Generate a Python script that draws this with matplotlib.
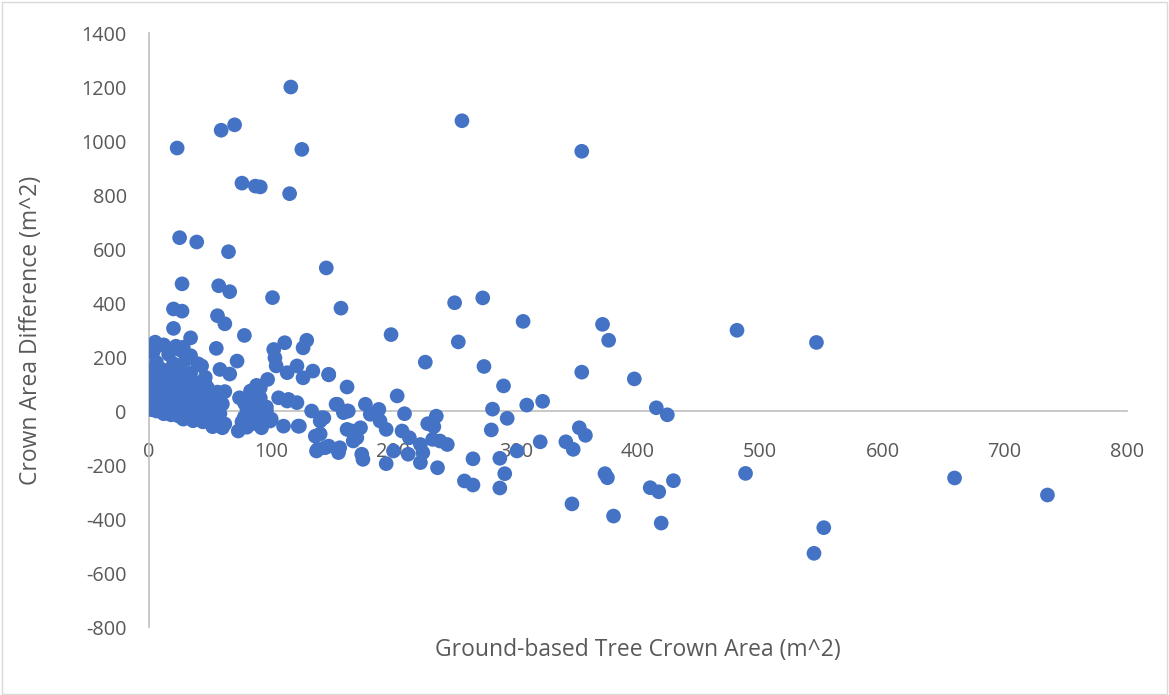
import matplotlib
matplotlib.use("Agg")
import matplotlib.pyplot as plt
from matplotlib.patches import Rectangle

plt.rcParams["axes.unicode_minus"] = False

# ---- data ----
# sparse / outlying points
outlier_x = [116, 23, 59, 70, 125, 76, 87, 91, 115, 256, 354, 25, 39, 65, 27, 57, 66,
             145, 101, 157, 20, 27, 20, 56, 62, 78, 34, 111, 129, 126, 5, 5, 55, 102,
             103, 113, 104, 121, 134, 126, 147, 72, 58, 43, 97, 91, 113, 121, 133, 140,
             153, 123, 136, 137, 73]
outlier_y = [1200, 974, 1040, 1060, 969, 844, 833, 830, 805, 1075, 962, 642, 626, 590, 471,
             464, 442, 530, 420, 381, 378, 370, 306, 353, 323, 280, 271, 253, 262, 234, 248,
             234, 232, 228, 197, 142, 167, 167, 148, 123, 136, 185, 154, 167, 117, 86, 37,
             31, 0, -37, 25, -56, -93, -148, -74]

mid_x = [250, 273, 198, 253, 306, 371, 376, 226, 274, 354, 397, 147, 162, 290, 203, 322,
         309, 281, 293, 280, 209, 235, 228, 233, 232, 244, 238, 177, 188, 154, 162, 189,
         194, 207, 213, 222, 224, 222, 212, 200, 194, 236, 265, 258, 265, 287, 301, 291,
         287, 320, 341, 347, 352, 357, 373, 375, 346, 380, 166, 167, 174, 175, 155, 144,
         140, 143, 159, 173, 181]
mid_y = [401, 419, 283, 256, 332, 321, 262, 181, 165, 144, 119, 134, 89, 93, 56, 36, 22, 7,
         -27, -70, -10, -19, -47, -58, -105, -124, -111, 25, 6, 25, 0, -37, -68, -74, -99,
         -124, -154, -191, -160, -148, -195, -210, -177, -259, -274, -175, -148, -232, -285,
         -114, -114, -142, -62, -90, -232, -247, -344, -389, -74, -111, -160, -179, -154,
         -136, -85, -25, -6, -62, -12]

far_x = [481, 546, 415, 424, 410, 417, 429, 488, 419, 552, 544, 659, 735,
         106, 114, 99, 88, 110, 122, 138, 147, 156, 162, 170, 83, 91, 94, 163, 141]
far_y = [299, 254, 12, -14, -284, -299, -258, -231, -415, -432, -527, -248, -311,
         49, 43, -37, -12, -56, -56, -142, -130, -136, -68, -99, 74, 49, 12, 0, -25]

# dense cluster of small crowns
dense_x = [5, 12, 22, 28,
           3, 16, 26, 34,
           6, 20, 30, 40,
           2, 10, 18, 26, 34, 46, 66,
           1, 6, 14, 22, 30, 38, 46,
           0, 5, 12, 18, 24, 30, 36, 42, 48, 56, 62, 88,
           1, 6, 10, 15, 21, 27, 33, 39, 45, 51, 58, 74, 82,
           0, 3, 8, 13, 18, 24, 30, 36, 42, 48, 54, 60, 78, 86, 96,
           2, 6, 11, 16, 22, 28, 34, 40, 46, 52, 58, 80, 88, 96,
           12, 18, 24, 30, 36, 42, 48, 54, 78, 84, 92,
           28, 36, 44, 50, 56, 62, 76, 86, 100,
           52, 60, 80, 92]
dense_y = [255, 245, 240, 236,
           215, 210, 225, 205,
           180, 175, 190, 175,
           150, 155, 140, 150, 140, 125, 137,
           120, 115, 125, 110, 112, 105, 100,
           90, 95, 85, 92, 78, 90, 80, 75, 85, 70, 72, 95,
           60, 65, 55, 62, 58, 66, 55, 60, 52, 50, 48, 49, 40,
           30, 25, 35, 28, 32, 26, 34, 28, 24, 30, 22, 26, 30, 20, 15,
           5, 0, 8, 2, 6, -4, 4, 0, -6, 2, -10, 10, 4, 0,
           -10, -14, -18, -12, -20, -16, -24, -20, -22, -18, -15,
           -30, -36, -40, -34, -44, -48, -40, -46, -30,
           -58, -62, -60, -62]

# ---- figure ----
fig = plt.figure(figsize=(11.69, 6.95), dpi=100)
fig.patches.append(Rectangle((0.002, 0.002), 0.996, 0.995, transform=fig.transFigure,
                             fill=False, edgecolor="#d9d9d9", linewidth=1.0))
ax = fig.add_axes([0.1275, 0.0978, 0.8365, 0.8547])

blue = "#4472C4"
for xs, ys in [(dense_x, dense_y), (outlier_x, outlier_y), (mid_x, mid_y), (far_x, far_y)]:
    ax.scatter(xs, ys, s=112, color=blue, edgecolors="none", zorder=3)

ax.set_xlim(0, 800)
ax.set_ylim(-800, 1400)
ax.set_xticks(range(0, 801, 100))
ax.set_yticks(range(-800, 1401, 200))

for s in ["top", "right"]:
    ax.spines[s].set_visible(False)
ax.spines["bottom"].set_position(("data", 0))
ax.spines["bottom"].set_color("#bfbfbf")
ax.spines["left"].set_color("#bfbfbf")
ax.spines["bottom"].set_linewidth(1.2)
ax.spines["left"].set_linewidth(1.2)

ax.tick_params(axis="both", length=0, labelsize=14.3, labelcolor="#595959")
ax.tick_params(axis="x", pad=22)
ax.tick_params(axis="y", pad=16)
for lab in ax.get_xticklabels() + ax.get_yticklabels():
    lab.set_family("Open Sans")

ax.set_xlabel("Ground-based Tree Crown Area (m^2)", fontsize=16.5, color="#595959",
              family="Open Sans")
ax.xaxis.set_label_coords(0.5, -0.018)
ax.set_ylabel("Crown Area Difference (m^2)", fontsize=16.5, color="#595959",
              family="Open Sans")
ax.yaxis.set_label_coords(-0.108, 0.5)

fig.savefig("out.png", dpi=100)
